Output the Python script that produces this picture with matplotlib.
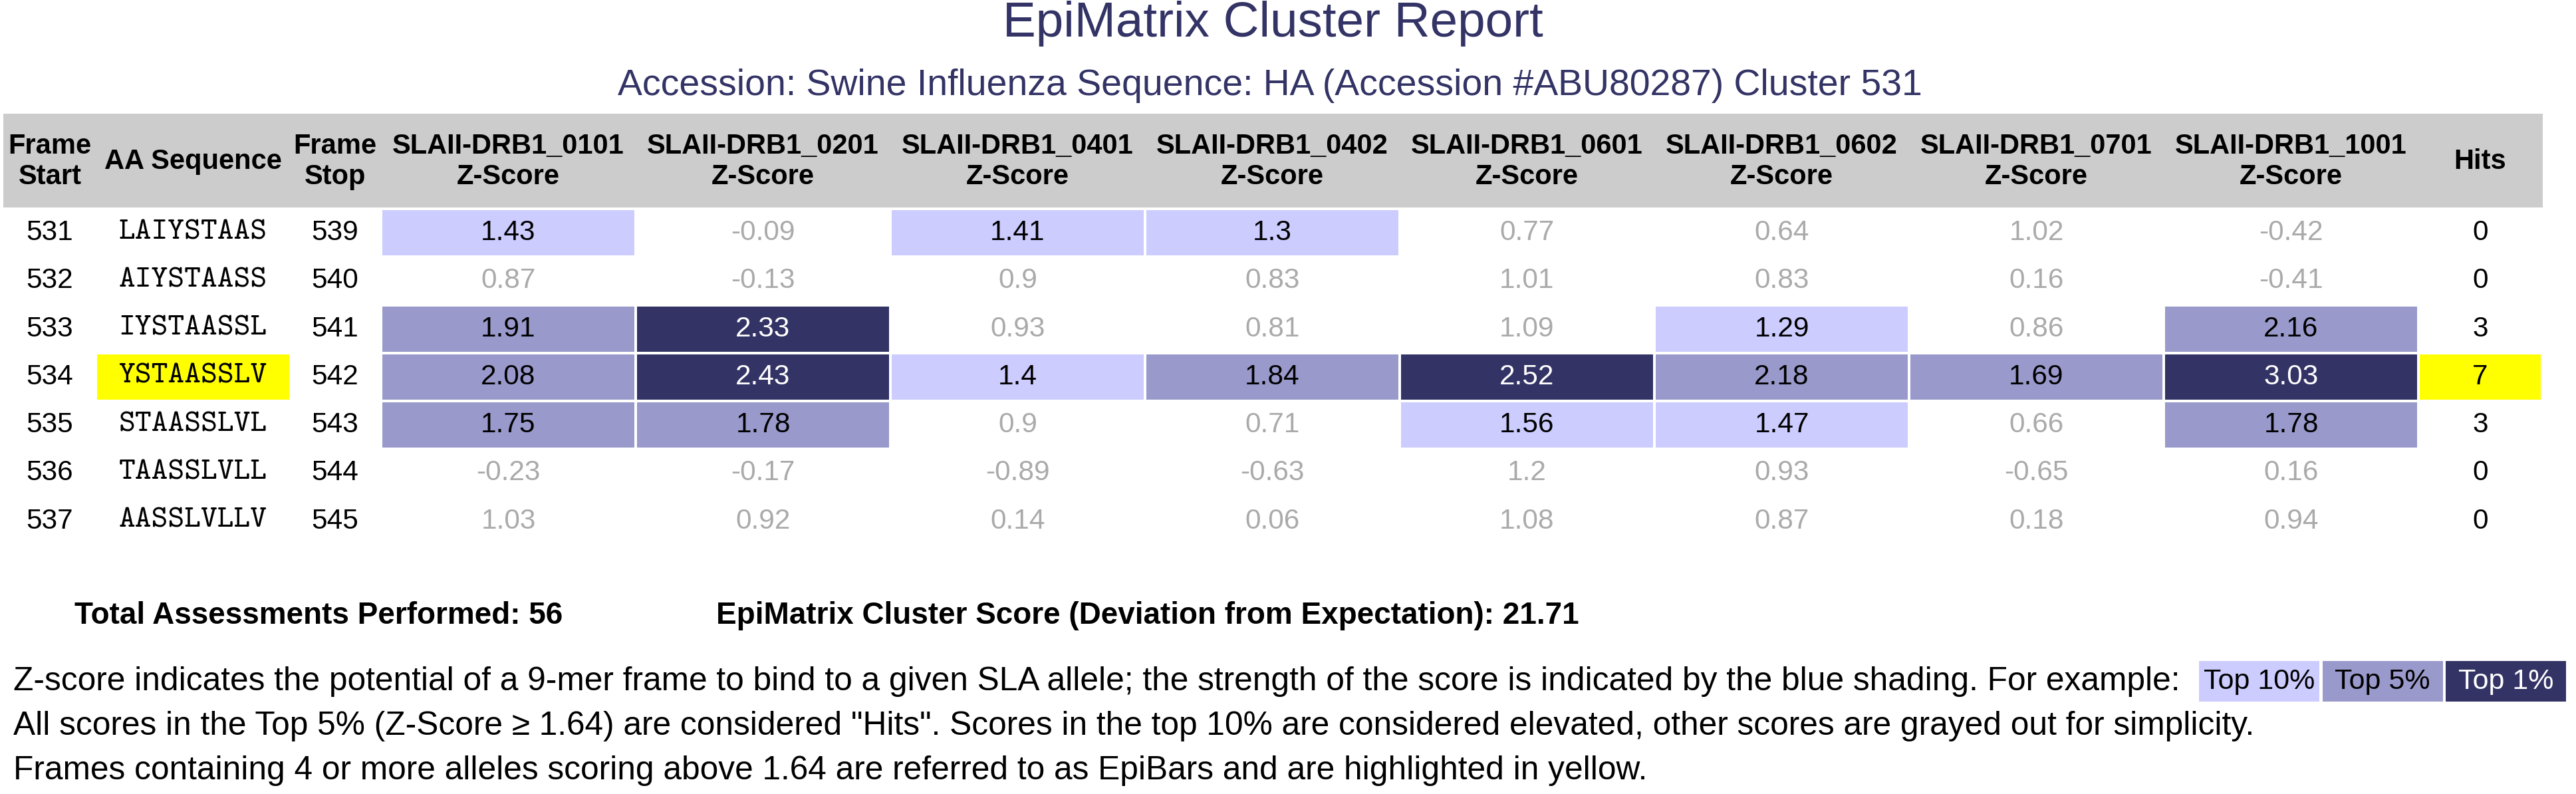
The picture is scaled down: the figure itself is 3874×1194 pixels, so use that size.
import matplotlib
matplotlib.use("Agg")
import matplotlib.pyplot as plt
from matplotlib.patches import Rectangle

# Data
frame_start = [531, 532, 533, 534, 535, 536, 537]
sequences = ["LAIYSTAAS", "AIYSTAASS", "IYSTAASSL", "YSTAASSLV",
             "STAASSLVL", "TAASSLVLL", "AASSLVLLV"]
frame_stop = [539, 540, 541, 542, 543, 544, 545]
alleles = ["SLAII-DRB1_0101", "SLAII-DRB1_0201", "SLAII-DRB1_0401", "SLAII-DRB1_0402",
           "SLAII-DRB1_0601", "SLAII-DRB1_0602", "SLAII-DRB1_0701", "SLAII-DRB1_1001"]
scores = [
    [1.43, -0.09, 1.41, 1.3, 0.77, 0.64, 1.02, -0.42],
    [0.87, -0.13, 0.9, 0.83, 1.01, 0.83, 0.16, -0.41],
    [1.91, 2.33, 0.93, 0.81, 1.09, 1.29, 0.86, 2.16],
    [2.08, 2.43, 1.4, 1.84, 2.52, 2.18, 1.69, 3.03],
    [1.75, 1.78, 0.9, 0.71, 1.56, 1.47, 0.66, 1.78],
    [-0.23, -0.17, -0.89, -0.63, 1.2, 0.93, -0.65, 0.16],
    [1.03, 0.92, 0.14, 0.06, 1.08, 0.87, 0.18, 0.94],
]
hits = [0, 0, 3, 7, 3, 0, 0]
epibar_rows = [3]
total_assessments = 56
cluster_score = 21.71

# Styling
W, H = 3874, 1194
SANS = "Liberation Sans"
MONO = "cmtt10"
NAVY = "#333366"
LIGHT = "#CCCCFF"
MID = "#9999CC"
DARK = "#333366"
GRAY_TXT = "#AAAAAA"
HEAD_BG = "#CCCCCC"
YELLOW = "#FFFF00"
NUM_FS = 30.5

fig = plt.figure(figsize=(W / 100, H / 100), dpi=100)
ax = fig.add_axes([0, 0, 1, 1])
ax.set_xlim(0, W)
ax.set_ylim(H, 0)
ax.axis("off")

# Titles
ax.text(1914, 36, "EpiMatrix Cluster Report", ha="center", va="center",
        fontsize=53.7, color=NAVY, family=SANS)
ax.text(1910, 129, "Accession: Swine Influenza Sequence: HA (Accession #ABU80287) Cluster 531",
        ha="center", va="center", fontsize=39.9, color=NAVY, family=SANS)

# Layout of the table
row_top, row_pitch, row_h = 316, 72.3, 68
col0, col_pitch, col_w = 575, 383, 379
hits_x0, hits_w = 3639, 182
fs_x, seq_x, stop_x = 75, 290, 504
seq_box = (146, 289)

# Header band
ax.add_patch(Rectangle((5, 171), 3819, 141, color=HEAD_BG, lw=0))
hy = 243
hkw = dict(ha="center", va="center", fontsize=30, fontweight="bold", family=SANS,
           linespacing=1.2)
ax.text(fs_x, hy, "Frame\nStart", **hkw)
ax.text(seq_x, hy, "AA Sequence", **hkw)
ax.text(stop_x, hy, "Frame\nStop", **hkw)
for j, name in enumerate(alleles):
    ax.text(col0 + j * col_pitch + col_w / 2, hy, name + "\nZ-Score", **hkw)
ax.text(hits_x0 + hits_w / 2, hy, "Hits", **hkw)


def shade(v):
    if v >= 2.32:
        return DARK, "white"
    if v >= 1.64:
        return MID, "black"
    if v >= 1.28:
        return LIGHT, "black"
    return None, GRAY_TXT


for i in range(len(frame_start)):
    y0 = row_top + i * row_pitch
    yc = y0 + row_h / 2
    ax.text(fs_x, yc, str(frame_start[i]), ha="center", va="center",
            fontsize=NUM_FS, family=SANS)
    if i in epibar_rows:
        ax.add_patch(Rectangle((seq_box[0], y0), seq_box[1], row_h, color=YELLOW, lw=0))
        ax.add_patch(Rectangle((hits_x0, y0), hits_w, row_h, color=YELLOW, lw=0))
    ax.text(seq_x, yc, sequences[i], ha="center", va="center",
            fontsize=34, family=MONO, fontweight="light")
    ax.text(stop_x, yc, str(frame_stop[i]), ha="center", va="center",
            fontsize=NUM_FS, family=SANS)
    for j, v in enumerate(scores[i]):
        x0 = col0 + j * col_pitch
        bg, tc = shade(v)
        if bg:
            ax.add_patch(Rectangle((x0, y0), col_w, row_h, color=bg, lw=0))
        ax.text(x0 + col_w / 2, yc, str(v), ha="center", va="center",
                fontsize=NUM_FS, family=SANS, color=tc)
    ax.text(hits_x0 + hits_w / 2, yc, str(hits[i]), ha="center", va="center",
            fontsize=NUM_FS, family=SANS)

# Summary line
ax.text(112, 926, f"Total Assessments Performed: {total_assessments}", ha="left",
        va="center", fontsize=33, fontweight="bold", family=SANS)
ax.text(1077, 926, f"EpiMatrix Cluster Score (Deviation from Expectation): {cluster_score}",
        ha="left", va="center", fontsize=33, fontweight="bold", family=SANS)

# Explanatory notes
notes = [
    "Z-score indicates the potential of a 9-mer frame to bind to a given SLA allele; "
    "the strength of the score is indicated by the blue shading. For example:",
    "All scores in the Top 5% (Z-Score \u2265 1.64) are considered \"Hits\". "
    "Scores in the top 10% are considered elevated, other scores are grayed out for simplicity.",
    "Frames containing 4 or more alleles scoring above 1.64 are referred to as EpiBars "
    "and are highlighted in yellow.",
]
for k, line in enumerate(notes):
    ax.text(20, 1025 + k * 67, line, ha="left", va="center", fontsize=35.7, family=SANS)

# Shading key
key = [("Top 10%", LIGHT, "black"), ("Top 5%", MID, "black"), ("Top 1%", DARK, "white")]
for k, (lab, bg, tc) in enumerate(key):
    x0 = 3307 + k * 185.5
    ax.add_patch(Rectangle((x0, 994), 181, 61, color=bg, lw=0))
    ax.text(x0 + 90.5, 1025, lab, ha="center", va="center", fontsize=31,
            family=SANS, color=tc)

fig.savefig("out.png", dpi=100)
